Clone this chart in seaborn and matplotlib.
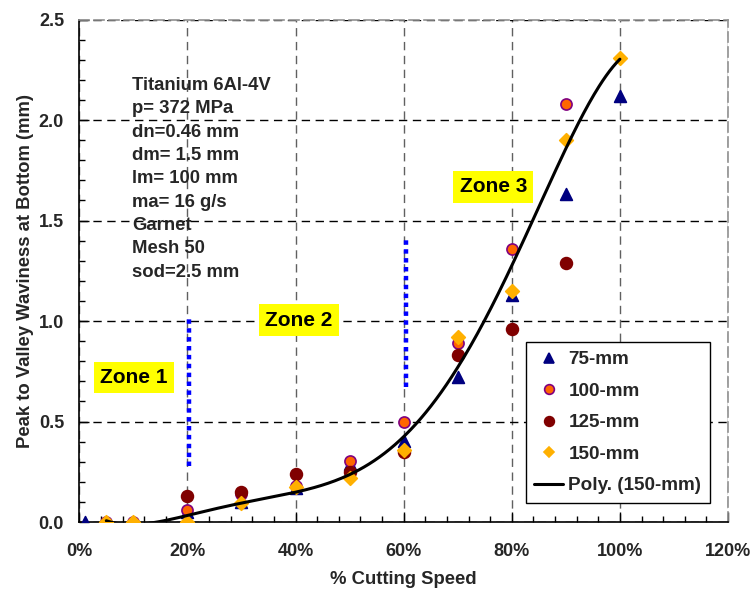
import numpy as np
import pandas as pd
import matplotlib
matplotlib.use("Agg")
import matplotlib.pyplot as plt
from matplotlib.ticker import MultipleLocator, FuncFormatter
from matplotlib.lines import Line2D
import seaborn as sns

# ---- data ----
speed_75 = [1, 5, 10, 20, 30, 40, 50, 60, 70, 80, 90, 100]
wav_75 = [0.0, 0.0, 0.0, 0.05, 0.10, 0.17, 0.29, 0.405, 0.72, 1.13, 1.63, 2.12]

speed_100 = [5, 10, 20, 30, 40, 50, 60, 70, 80, 90]
wav_100 = [0.0, 0.0, 0.06, 0.14, 0.18, 0.305, 0.50, 0.89, 1.36, 2.08]

speed_125 = [20, 30, 40, 50, 60, 70, 80, 90]
wav_125 = [0.127, 0.148, 0.238, 0.247, 0.35, 0.83, 0.96, 1.29]

speed_150 = [5, 10, 20, 30, 40, 50, 60, 70, 80, 90, 100]
wav_150 = [0.0, 0.0, 0.0, 0.093, 0.173, 0.218, 0.36, 0.92, 1.15, 1.90, 2.31]

# polynomial trend line of the 150-mm series
trend_x = [5, 10, 15, 20, 30, 40, 50, 60, 65, 70, 75, 80, 85, 90, 95, 100]
trend_y = [0.0, 0.0, 0.0, 0.031, 0.09, 0.148, 0.234, 0.44, 0.58, 0.756, 1.0,
           1.27, 1.57, 1.867, 2.116, 2.30]
trend_order = 5

series_names = ["75-mm", "100-mm", "125-mm", "150-mm"]
trend_label = "Poly. (150-mm)"

zone_labels = ["Zone 1", "Zone 2", "Zone 3"]
zone_x = [10.1, 40.6, 76.6]
zone_y = [0.72, 1.005, 1.667]

boundary_x = [20.3, 60.4]
boundary_lo = [0.28, 0.67]
boundary_hi = [1.02, 1.41]

note_lines = ["Titanium 6Al-4V", "p= 372 MPa", "dn=0.46 mm", "dm= 1.5 mm",
              "lm= 100 mm", "ma= 16 g/s", "Garnet", "Mesh 50", "sod=2.5 mm"]

x_label = "% Cutting Speed"
y_label = "Peak to Valley Waviness at Bottom (mm)"

# ---- style ----
sns.set_theme(style="white")
plt.rcParams["font.family"] = ["Liberation Sans", "DejaVu Sans"]
plt.rcParams["font.weight"] = "bold"

fig = plt.figure(figsize=(7.53, 5.92), dpi=100)
ax = fig.add_axes([0.1053, 0.1182, 0.8615, 0.8488])

frames = [
    pd.DataFrame({"speed": speed_75, "wav": wav_75, "series": series_names[0]}),
    pd.DataFrame({"speed": speed_100, "wav": wav_100, "series": series_names[1]}),
    pd.DataFrame({"speed": speed_125, "wav": wav_125, "series": series_names[2]}),
    pd.DataFrame({"speed": speed_150, "wav": wav_150, "series": series_names[3]}),
]

styles = [
    dict(marker="^", color="#000080", edgecolor="#000080", s=72),
    dict(marker="o", color="#FF6600", edgecolor="#800080", s=64),
    dict(marker="o", color="#800000", edgecolor="#800000", s=72),
    dict(marker="D", color="#FFB000", edgecolor="#FFB000", s=48),
]

for i, (df, st) in enumerate(zip(frames, styles)):
    sns.scatterplot(data=df, x="speed", y="wav", ax=ax, marker=st["marker"],
                    color=st["color"], edgecolor=st["edgecolor"], s=st["s"],
                    linewidth=1.2, zorder=3 + i, legend=False)

# smooth polynomial through the read trend-line samples
coef = np.polyfit(trend_x, trend_y, trend_order)
xs = np.linspace(min(trend_x), max(trend_x), 300)
trend_df = pd.DataFrame({"speed": xs, "wav": np.polyval(coef, xs)})
sns.lineplot(data=trend_df, x="speed", y="wav", ax=ax, color="black", lw=2.2,
             zorder=8, legend=False)

# zone boundaries
for bx, lo, hi in zip(boundary_x, boundary_lo, boundary_hi):
    ax.plot([bx, bx], [lo, hi], color="#0000FF", lw=3.2, linestyle=(0, (1, 1)),
            dash_capstyle="butt", zorder=2)

# zone labels
for t, zx, zy in zip(zone_labels, zone_x, zone_y):
    ax.text(zx, zy, t, ha="center", va="center", fontsize=15, fontweight="bold",
            color="black", zorder=9,
            bbox=dict(boxstyle="square,pad=0.3", facecolor="#FFFF00", edgecolor="none"))

# notes
ax.text(0.081, 0.886, "\n".join(note_lines), transform=ax.transAxes, ha="left",
        va="top", fontsize=13.3, fontweight="bold", linespacing=1.49, zorder=9)

# axes
ax.set_xlim(0, 120)
ax.set_ylim(0, 2.5)
ax.xaxis.set_major_locator(MultipleLocator(20))
ax.xaxis.set_minor_locator(MultipleLocator(4))
ax.yaxis.set_major_locator(MultipleLocator(0.5))
ax.yaxis.set_minor_locator(MultipleLocator(0.1))
ax.xaxis.set_major_formatter(FuncFormatter(lambda v, p: f"{v:.0f}%"))
ax.yaxis.set_major_formatter(FuncFormatter(lambda v, p: f"{v:.1f}"))
ax.tick_params(axis="x", which="major", direction="in", length=7, width=1,
               color="black", labelsize=13, pad=15, bottom=True)
ax.tick_params(axis="y", which="major", direction="in", length=7, width=1,
               color="black", labelsize=13, pad=11, left=True)
ax.tick_params(which="minor", direction="in", length=4, width=1, color="black",
               bottom=True, left=True)
for lab in ax.get_xticklabels() + ax.get_yticklabels():
    lab.set_fontweight("bold")

ax.xaxis.grid(True, which="major", color="#606060", linestyle=(0, (6, 4)), lw=1)
ax.yaxis.grid(True, which="major", color="black", linestyle=(0, (6, 4)), lw=1)
ax.set_axisbelow(True)

for side in ["left", "bottom"]:
    ax.spines[side].set_color("black")
    ax.spines[side].set_linewidth(1.2)
for side in ["top", "right"]:
    ax.spines[side].set_color("#909090")
    ax.spines[side].set_linewidth(1.2)
    ax.spines[side].set_linestyle((0, (6, 3)))

ax.set_xlabel(x_label, fontsize=13.3, fontweight="bold", labelpad=8)
ax.set_ylabel(y_label, fontsize=13.3, fontweight="bold", labelpad=3)

# legend
handles = []
for name, st in zip(series_names, styles):
    handles.append(Line2D([], [], linestyle="none", marker=st["marker"],
                          markerfacecolor=st["color"], markeredgecolor=st["edgecolor"],
                          markersize=7 if st["marker"] != "D" else 5.5,
                          markeredgewidth=1.2, label=name))
handles.append(Line2D([], [], color="black", lw=2.2, label=trend_label))
leg = ax.legend(handles=handles, loc="lower right", bbox_to_anchor=(0.972, 0.038),
                prop={"size": 13.6, "weight": "bold"}, frameon=True, fancybox=False,
                framealpha=1, edgecolor="black", labelspacing=0.76,
                handlelength=1.5, handletextpad=0.3, borderpad=0.45,
                borderaxespad=0)
leg.get_frame().set_linewidth(1.0)
leg.set_zorder(20)

fig.savefig("out.png", dpi=100)
